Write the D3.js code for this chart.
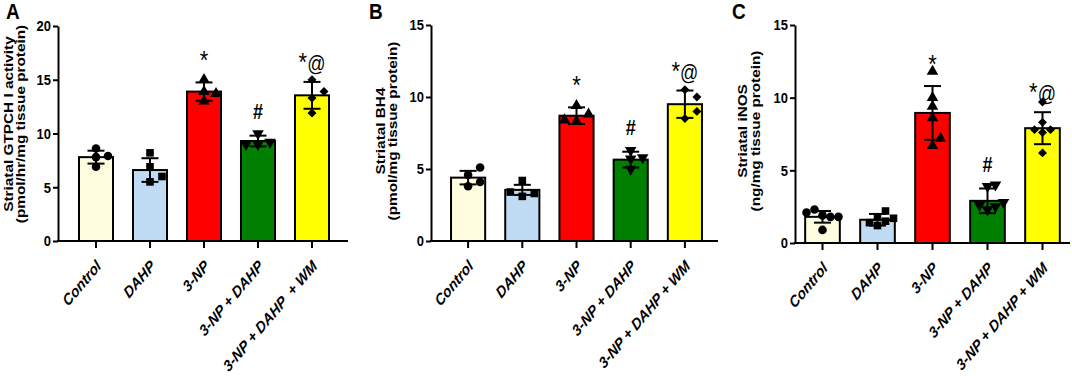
<!DOCTYPE html>
<html>
<head>
<meta charset="utf-8">
<script src="https://cdn.jsdelivr.net/npm/d3@7"></script>
<style>
  body { margin: 0; background: #fff; }
  svg text { font-family: "Liberation Sans", Arial, sans-serif; fill: #000; }
</style>
</head>
<body>
<div id="chart"></div>
<script>
// groups shared by all three panels
const groups = ["Control", "DAHP", "3-NP", "3-NP + DAHP", "3-NP + DAHP  + WM"];
const groupFill = ["#fffde0", "#c0dcf5", "#ff0000", "#008000", "#ffff00"];
const sigMarks = ["", "", "*", "#", "*@"];

// A: striatal GTPCH I activity
const gtpchMean = [7.8, 6.6, 13.9, 9.3, 13.55];
const gtpchSD = [0.6, 1.1, 0.85, 0.5, 1.25];
const gtpchPts = [[8.6, 7.8, 6.9, 7.9], [5.5, 8.2, 6.9, 6.0], [13.0, 15.0, 13.7, 13.9], [9.0, 9.2, 9.0, 10.0], [13.3, 15.0, 11.9, 13.9]];
const gtpchTicks = [0, 5, 10, 15, 20];

// B: striatal BH4
const bh4Mean = [4.4, 3.55, 8.7, 5.65, 9.5];
const bh4SD = [0.47, 0.35, 0.58, 0.55, 0.95];
const bh4Pts = [[3.8, 4.6, 5.1, 4.1], [4.2, 3.1, 3.3, 3.4], [8.3, 8.8, 9.4, 8.4], [5.0, 5.7, 6.3, 5.8], [8.5, 10.5, 10.0, 9.0]];
const bh4Ticks = [0, 5, 10, 15];

// C: striatal iNOS
const inosMean = [1.8, 1.6, 8.95, 2.9, 7.9];
const inosSD = [0.4, 0.4, 1.85, 0.85, 1.1];
const inosPts = [[1.9, 1.8, 0.9, 2.3, 1.8, 2.1], [1.2, 1.8, 1.5, 2.2, 1.4, 1.7], [6.7, 7.2, 8.6, 9.4, 10.0, 11.8], [2.3, 2.5, 2.6, 2.8, 3.9, 4.0], [6.2, 9.7, 8.3, 7.8, 7.8, 7.6]];
const inosTicks = [0, 5, 10, 15];

const W = 1072, H = 376;
const sy = 1.18; // the figure text is a bit taller than wide

const svg = d3.select("#chart").append("svg")
    .attr("width", W)
    .attr("height", H);

const panels = [
    {letter: "A", mean: gtpchMean, sd: gtpchSD, pts: gtpchPts, ticks: gtpchTicks,
     label: ["Striatal GTPCH I activity", "(pmol/hr/mg tissue protein)"],
     ax: 58, axEnd: 348, band: [69, 339], y0: 241, yTop: 26, lab1: 13, lab2: 25, labY: 124, letterX: 6},
    {letter: "B", mean: bh4Mean, sd: bh4SD, pts: bh4Pts, ticks: bh4Ticks,
     label: ["Striatal BH4", "(pmol/mg tissue protein)"],
     ax: 431, axEnd: 718, band: [441, 712], y0: 241, yTop: 25, lab1: 385, lab2: 397, labY: 131, letterX: 369},
    {letter: "C", mean: inosMean, sd: inosSD, pts: inosPts, ticks: inosTicks,
     label: ["Striatal iNOS", "(ng/mg tissue protein)"],
     ax: 795, axEnd: 1070, band: [795, 1070], y0: 243, yTop: 25, lab1: 747, lab2: 760, labY: 131, letterX: 732}
];

const symbols = [d3.symbolCircle, d3.symbolSquare, d3.symbolTriangle, d3.symbolTriangle, d3.symbolSquare];
const symRotate = [0, 0, 0, 180, 45];
const symSize = [58, 58, 58, 58, 40];

// simple beeswarm so overlapping points spread sideways
function swarm(values, y, step, minGap){
    let placed = [];
    values.forEach(v => {
        let py = y(v);
        let cands = [0, step, -step, 2 * step, -2 * step];
        let dx = cands.find(c => placed.every(p => Math.abs(p.py - py) >= minGap || Math.abs(p.dx - c) >= minGap));
        if (dx === undefined) dx = 0;
        placed.push({v: v, py: py, dx: dx});
    });
    return placed;
}

panels.forEach(p => {
    let g = svg.append("g");
    let ymax = p.ticks[p.ticks.length - 1];

    let y = d3.scaleLinear()
        .domain([0, ymax])
        .range([p.y0, p.yTop]);
    let x = d3.scaleBand()
        .domain(groups)
        .range(p.band)
        .paddingInner(0.37)
        .paddingOuter(0.185);

    // bars
    g.selectAll(".bar")
        .data(groups)
        .join("rect")
        .attr("class", "bar")
        .attr("x", d => x(d))
        .attr("y", (d, i) => y(p.mean[i]))
        .attr("width", x.bandwidth())
        .attr("height", (d, i) => y(0) - y(p.mean[i]))
        .attr("fill", (d, i) => groupFill[i])
        .attr("stroke", "#000")
        .attr("stroke-width", 2);

    // error bars
    let capW = 17;
    groups.forEach((d, i) => {
        let cx = x(d) + x.bandwidth() / 2;
        let hi = y(p.mean[i] + p.sd[i]), lo = y(p.mean[i] - p.sd[i]);
        g.append("line").attr("x1", cx).attr("x2", cx).attr("y1", hi).attr("y2", lo)
            .attr("stroke", "#000").attr("stroke-width", 2);
        [hi, lo].forEach(yy => {
            g.append("line").attr("x1", cx - capW / 2).attr("x2", cx + capW / 2)
                .attr("y1", yy).attr("y2", yy)
                .attr("stroke", "#000").attr("stroke-width", 2);
        });
    });

    // individual points
    let step = p.pts[0].length > 4 ? 8 : 12;
    groups.forEach((d, i) => {
        let cx = x(d) + x.bandwidth() / 2;
        let pts = swarm(p.pts[i], y, step, 8);
        g.selectAll(".pt" + i)
            .data(pts)
            .join("path")
            .attr("d", d3.symbol().type(symbols[i]).size(symSize[i]))
            .attr("transform", q => `translate(${cx + q.dx},${q.py}) rotate(${symRotate[i]})`)
            .attr("fill", "#000");
    });

    // significance marks
    groups.forEach((d, i) => {
        let s = sigMarks[i];
        if (!s) return;
        let cx = x(d) + x.bandwidth() / 2;
        let capY = y(p.mean[i] + p.sd[i]);
        let lift = s === "#" ? 17 : (s === "*" ? 13 : 11);
        let t = g.append("text")
            .attr("text-anchor", "middle")
            .attr("transform", `translate(${cx},${capY - lift}) scale(1,${sy})`);
        s.split("").forEach(ch => {
            t.append("tspan")
                .attr("font-size", ch === "*" ? 22 : 18)
                .attr("font-weight", ch === "#" ? "bold" : "normal")
                .text(ch);
        });
    });

    // y axis
    let yAxis = g.append("g")
        .attr("transform", `translate(${p.ax},0)`)
        .call(d3.axisLeft(y).tickValues(p.ticks).tickSize(5).tickSizeOuter(0));
    yAxis.select(".domain").attr("stroke-width", 2);
    yAxis.selectAll(".tick line").attr("stroke-width", 2);
    yAxis.selectAll(".tick text")
        .attr("font-size", 13)
        .attr("font-weight", "bold")
        .attr("font-family", "'Liberation Sans', Arial, sans-serif")
        .attr("x", -7)
        .attr("transform", `scale(1,${sy})`);

    // x axis
    g.append("line")
        .attr("x1", p.ax - 1).attr("x2", p.axEnd)
        .attr("y1", p.y0).attr("y2", p.y0)
        .attr("stroke", "#000").attr("stroke-width", 2);
    let xAxis = g.append("g")
        .attr("transform", `translate(0,${p.y0})`)
        .call(d3.axisBottom(x).tickSize(7).tickSizeOuter(0).tickFormat(""));
    xAxis.select(".domain").remove();
    xAxis.selectAll(".tick line").attr("stroke-width", 2);

    g.selectAll(".xlab")
        .data(groups)
        .join("text")
        .attr("class", "xlab")
        .attr("text-anchor", "end")
        .attr("font-size", 13.5)
        .attr("font-weight", "bold")
        .attr("font-style", "italic")
        .style("white-space", "pre")
        .attr("transform", d => `translate(${x(d) + x.bandwidth() / 2 + 6},${p.y0 + 26}) scale(1,${sy}) rotate(-45)`)
        .text((d, i) => p.letter === "A" ? d : d.replace("  ", " "));

    // y label, two lines
    [p.lab1, p.lab2].forEach((lx, k) => {
        g.append("text")
            .attr("text-anchor", "middle")
            .attr("font-size", 13)
            .attr("font-weight", "bold")
            .attr("transform", `translate(${lx},${p.labY}) scale(1,${sy}) rotate(-90)`)
            .text(p.label[k]);
    });

    // panel letter
    g.append("text")
        .attr("font-size", 19)
        .attr("font-weight", "bold")
        .attr("transform", `translate(${p.letterX},${19}) scale(1,${sy})`)
        .text(p.letter);
});
</script>
</body>
</html>
